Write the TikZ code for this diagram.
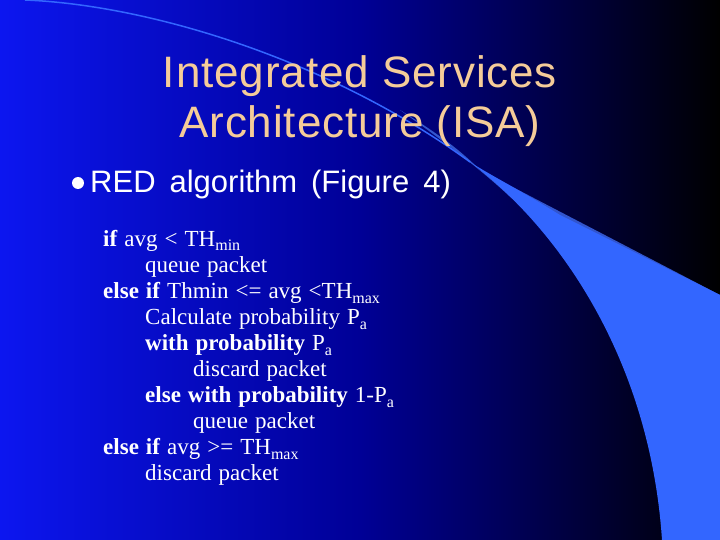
\documentclass[tikz,border=0pt]{standalone}
\usepackage{fontspec}
\setmainfont{Liberation Serif}
\newfontfamily\sansf{Liberation Sans}
\newfontfamily\ttlfont[LetterSpace=2]{Liberation Sans}
\definecolor{bgA}{RGB}{12,22,240}
\definecolor{bgB}{RGB}{0,0,150}
\definecolor{swA}{RGB}{51,102,255}
\definecolor{swB}{RGB}{50,85,205}
\definecolor{titlec}{RGB}{245,204,153}
\newcommand{\sbs}[1]{\raisebox{-5pt}{\fontsize{16}{16}\selectfont #1}}
\newcommand{\wsbody}{\spaceskip=7pt plus 1pt\relax}
\newcommand{\wsbul}{\spaceskip=14pt\relax}
\tikzset{
  ttl/.style={text=titlec, font=\ttlfont\fontsize{44}{50}\selectfont, anchor=base, inner sep=0},
  body/.style={text=white, font=\fontsize{23}{26}\selectfont\wsbody, anchor=base west, inner sep=0},
  bul/.style={text=white, font=\sansf\fontsize{31}{34}\selectfont\wsbul, anchor=base west, inner sep=0}
}
\begin{document}
\begin{tikzpicture}[x=1pt,y=-1pt]
\useasboundingbox (0,0) rectangle (720,540);
\shade[left color=bgA, right color=black, middle color=bgB] (0,0) rectangle (720,540);
% swoosh band
\fill[swB] (400,110) .. controls (440,135) and (460,150) .. (480,170) -- (720,295) -- (720,320) -- (560,250) .. controls (520,200) and (470,160) .. (400,110) -- cycle;
\fill[swA] (470,162) .. controls (560,230) and (650,360) .. (662,540) -- (720,540) -- (720,295) -- (560,215) .. controls (520,190) and (490,175) .. (470,162) -- cycle;
\draw[swA, line width=1.5pt] (25,0) .. controls (150,5) and (330,60) .. (470,162);
% title
\node[ttl] (t1) at (360,88) {Integrated Services};
\node[ttl] (t2) at (360,138) {Architecture (ISA)};
% bullet
\fill[white] (78,183) circle (6);
\node[bul] (b1) at (90,193) {RED algorithm (Figure 4)};
% body
\node[body] (l1) at (103,246) {\textbf{if} avg < TH\sbs{min}};
\node[body] (l2) at (145,272) {queue packet};
\node[body] (l3) at (103,298) {\textbf{else if} Thmin <= avg <TH\sbs{max}};
\node[body] (l4) at (145,324) {Calculate probability P\sbs{a}};
\node[body] (l5) at (145,350) {\textbf{with probability} P\sbs{a}};
\node[body] (l6) at (193,376) {discard packet};
\node[body] (l7) at (145,402) {\textbf{else with probability} 1-P\sbs{a}};
\node[body] (l8) at (193,428) {queue packet};
\node[body] (l9) at (103,454) {\textbf{else if} avg >= TH\sbs{max}};
\node[body] (l10) at (145,480) {discard packet};
\end{tikzpicture}
\end{document}
